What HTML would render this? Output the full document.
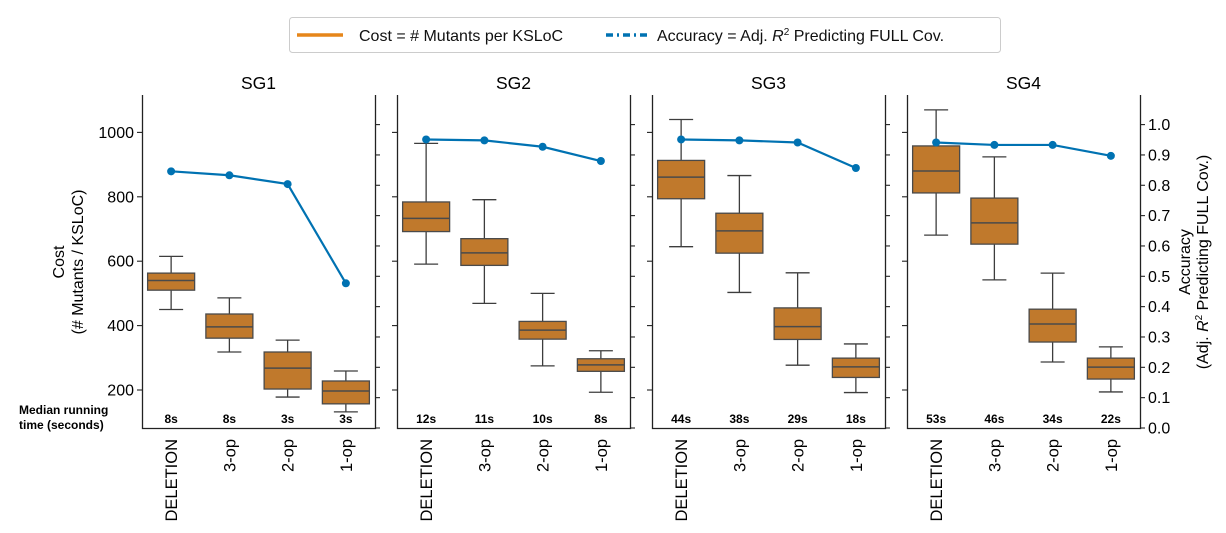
<!DOCTYPE html>
<html><head><meta charset="utf-8"><style>
body{margin:0;background:#fff;}
svg{display:block;font-family:"Liberation Sans",Arial,sans-serif;}
</style></head><body>
<svg id="chart" width="1226" height="533">
<g>
<rect x="289.5" y="17.5" width="711" height="35" rx="3" fill="#fff" stroke="#ccc"/>
<line x1="297" y1="35" x2="343" y2="35" stroke="#e6861a" stroke-width="3.5"/>
<text x="359" y="41" font-size="16" fill="#111">Cost = # Mutants per KSLoC</text>
<line x1="606" y1="35" x2="651" y2="35" stroke="#0072b2" stroke-width="3.5" stroke-dasharray="7,4,2,4"/>
<text x="657" y="41" font-size="16" fill="#111">Accuracy = Adj. <tspan font-style="italic">R</tspan><tspan font-size="10" dy="-6">2</tspan><tspan dy="6"> Predicting FULL Cov.</tspan></text>
</g>
<text transform="translate(64,262) rotate(-90)" text-anchor="middle" font-size="16">Cost</text>
<text transform="translate(83,262) rotate(-90)" text-anchor="middle" font-size="16">(# Mutants / KSLoC)</text>
<text transform="translate(1190,262) rotate(-90)" text-anchor="middle" font-size="16">Accuracy</text>
<text transform="translate(1208,262) rotate(-90)" text-anchor="middle" font-size="16">(Adj. <tspan font-style="italic">R</tspan><tspan font-size="10" dy="-6">2</tspan><tspan dy="6"> Predicting FULL Cov.)</tspan></text>
<text x="19" y="414" font-size="12" font-weight="bold">Median running</text>
<text x="19" y="429" font-size="12" font-weight="bold">time (seconds)</text>
</svg>
<script>
const categories = ["DELETION","3-op","2-op","1-op"];
const panels = ["SG1","SG2","SG3","SG4"];
const whiskerLow = [[450,318,178,132],[591,469,275,193],[645,503,277,192],[681,542,287,194]];
const q1 = [[510,361,203,157],[692,587,358,258],[794,625,357,239],[812,653,349,234]];
const median = [[540,396,268,197],[733,626,386,278],[861,694,397,272],[880,719,405,271]];
const q3 = [[563,436,318,228],[784,670,413,297],[913,749,455,299],[958,796,451,299]];
const whiskerHigh = [[615,486,355,259],[966,791,500,322],[1040,866,564,343],[1070,924,563,334]];
const accuracy = [[0.846,0.833,0.804,0.477],[0.951,0.948,0.927,0.880],[0.951,0.948,0.941,0.857],[0.941,0.933,0.933,0.897]];
const runtimes = [["8s","8s","3s","3s"],["12s","11s","10s","8s"],["44s","38s","29s","18s"],["53s","46s","34s","22s"]];
const costTicks = [200,400,600,800,1000];
const accTicks = [0.0,0.1,0.2,0.3,0.4,0.5,0.6,0.7,0.8,0.9,1.0];

const svg = document.getElementById('chart');
const NS = 'http://www.w3.org/2000/svg';
const top_ = 95, bottom = 428;
const panelLeft = [142,397,652,907], panelW = 233;
function yCost(v){ return 390 - (v-200)*0.322; }
function yAcc(v){ return 428 - v*303.4; }
function mk(tag, attrs, parent){ const e=document.createElementNS(NS,tag); for(const k in attrs) e.setAttribute(k,attrs[k]); (parent||svg).appendChild(e); return e; }

panels.forEach((p,pi)=>{
  const L = panelLeft[pi], R = L+panelW;
  const g = mk('g',{});
  
  
  const xc = i => L + panelW/8 + i*panelW/4;
  const t = mk('text',{x:(L+R)/2,y:89,'text-anchor':'middle','font-size':17.5},g);
  t.textContent = p;
  
  
  mk('path',{d:`M${L+0.5},${top_} V${bottom+0.5} H${R+0.5} V${top_}`,fill:'none',stroke:'#222','stroke-width':1.3},g);
  costTicks.forEach(v=>{
    const y=yCost(v);
    mk('line',{x1:L-5,x2:L,y1:y,y2:y,stroke:'#222','stroke-width':1.1},g);
    if(pi===0){
      const tl = mk('text',{x:L-8,y:y+5.5,'text-anchor':'end','font-size':16},g);
      tl.textContent = v;
      
      
    }
  });
  accTicks.forEach(v=>{
    const y=yAcc(v);
    mk('line',{x1:R,x2:R+5,y1:y,y2:y,stroke:'#222','stroke-width':1.1},g);
    if(pi===3){
      const tl = mk('text',{x:R+8,y:y+5.5,'font-size':16},g);
      tl.textContent = v.toFixed(1);
      
      
    }
  });
  categories.forEach((c,i)=>{
    const x = xc(i), bw = 47;
    const b = mk('g',{},g);
    
    
    mk('line',{x1:x,x2:x,y1:yCost(whiskerHigh[pi][i]),y2:yCost(q3[pi][i]),stroke:'#3d3d3d','stroke-width':1.3},b);
    mk('line',{x1:x,x2:x,y1:yCost(q1[pi][i]),y2:yCost(whiskerLow[pi][i]),stroke:'#3d3d3d','stroke-width':1.3},b);
    mk('line',{x1:x-12,x2:x+12,y1:yCost(whiskerHigh[pi][i]),y2:yCost(whiskerHigh[pi][i]),stroke:'#3d3d3d','stroke-width':1.3},b);
    mk('line',{x1:x-12,x2:x+12,y1:yCost(whiskerLow[pi][i]),y2:yCost(whiskerLow[pi][i]),stroke:'#3d3d3d','stroke-width':1.3},b);
    mk('rect',{x:x-bw/2,y:yCost(q3[pi][i]),width:bw,height:yCost(q1[pi][i])-yCost(q3[pi][i]),fill:'#c0792c',stroke:'#4a4a4a','stroke-width':1.3},b);
    mk('line',{x1:x-bw/2,x2:x+bw/2,y1:yCost(median[pi][i]),y2:yCost(median[pi][i]),stroke:'#4a4a4a','stroke-width':1.5},b);
    const rt = mk('text',{x:x,y:423,'text-anchor':'middle','font-size':12,'font-weight':'bold'},g);
    rt.textContent = runtimes[pi][i];
    
    
    const cl = mk('text',{transform:`translate(${x+6},439) rotate(-90)`,'text-anchor':'end','font-size':16.5},g);
    cl.textContent = c;
    
    
  });
  const pts = categories.map((c,i)=>`${xc(i)},${yAcc(accuracy[pi][i])}`).join(' ');
  const ln = mk('polyline',{points:pts,fill:'none',stroke:'#0072b2','stroke-width':2.2},g);
  
  
  categories.forEach((c,i)=>{
    const d = mk('circle',{cx:xc(i),cy:yAcc(accuracy[pi][i]),r:4,fill:'#0072b2'},g);
    
    
  });
});
</script>
</body></html>
